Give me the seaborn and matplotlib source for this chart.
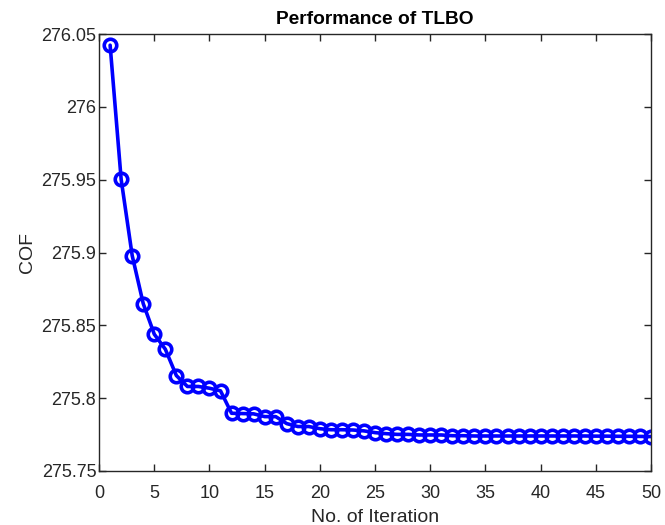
import numpy as np
import pandas as pd
import matplotlib
matplotlib.use("Agg")
import matplotlib.pyplot as plt
from matplotlib.ticker import FuncFormatter
import seaborn as sns

# ── data ──
iterations = list(range(1, 51))
cof = [276.0424, 275.9502, 275.8979, 275.8649, 275.8439, 275.8336, 275.8155,
       275.8080, 275.8080, 275.8068, 275.8050, 275.7896, 275.7894, 275.7892,
       275.7873, 275.7873, 275.7825, 275.7805, 275.7805, 275.7790, 275.7783,
       275.7783, 275.7781, 275.7775, 275.7763, 275.7756, 275.7751, 275.7751,
       275.7747, 275.7747, 275.7747, 275.7742, 275.7742, 275.7740, 275.7740,
       275.7740, 275.7740, 275.7740, 275.7740, 275.7740, 275.7740, 275.7740,
       275.7740, 275.7740, 275.7739, 275.7739, 275.7738, 275.7738, 275.7737,
       275.7736]
x_ticks = list(range(0, 51, 5))
y_ticks = [275.75, 275.8, 275.85, 275.9, 275.95, 276.0, 276.05]

df = pd.DataFrame({"iter": iterations, "cof": cof})

sns.set_style("white")
plt.rcParams['font.family'] = ['Liberation Sans', 'DejaVu Sans']

fig = plt.figure(figsize=(6.65, 5.25), dpi=100)
ax = fig.add_axes([0.149, 0.103, 0.830, 0.832])

sns.lineplot(data=df, x="iter", y="cof", ax=ax, color="#0000ff",
             linewidth=2.6, marker="o", markersize=9,
             markerfacecolor="none", markeredgecolor="#0000ff",
             markeredgewidth=2.6)

ax.set_xlim(0, 50)
ax.set_ylim(275.75, 276.05)
ax.set_xticks(x_ticks)
ax.set_yticks(y_ticks)
ax.yaxis.set_major_formatter(FuncFormatter(lambda v, p: f"{v:g}"))

edge = "#262626"
for s in ax.spines.values():
    s.set_color(edge)
    s.set_linewidth(1.0)
ax.tick_params(direction="in", length=5, width=1.0, colors=edge,
               labelsize=13, top=True, right=True, bottom=True, left=True,
               labelcolor=edge)
ax.tick_params(axis="x", pad=10)
ax.tick_params(axis="y", pad=2)

ax.set_xlabel("No. of Iteration", fontsize=14, color=edge, labelpad=5)
ax.set_ylabel("COF", fontsize=14, color=edge, labelpad=4)
ax.set_title("Performance of TLBO", fontsize=13.8, fontweight="bold", color="black", pad=7)

fig.savefig("out.png", dpi=100)
